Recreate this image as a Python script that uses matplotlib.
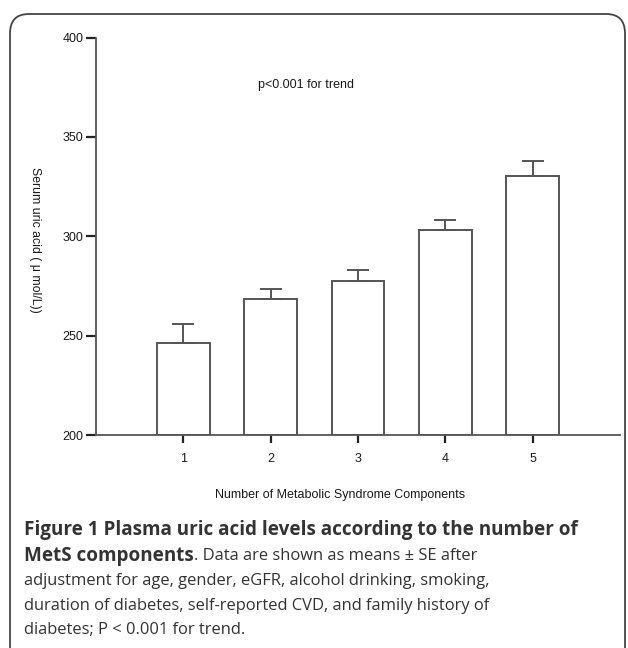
import matplotlib.pyplot as plt
from matplotlib.patches import FancyBboxPatch

# MetS component count vs adjusted serum uric acid
components = [1, 2, 3, 4, 5]
uric_mean = [246.4, 268.2, 277.5, 303.2, 330.2]
uric_se = [9.4, 5.2, 5.3, 5.0, 7.6]

y_ticks = [200, 250, 300, 350, 400]

caption_bold1 = "Figure 1 Plasma uric acid levels according to the number of"
caption_bold2 = "MetS components"
caption_rest = [". Data are shown as means \u00b1 SE after",
                "adjustment for age, gender, eGFR, alcohol drinking, smoking,",
                "duration of diabetes, self-reported CVD, and family history of",
                "diabetes; P < 0.001 for trend."]

W, H = 628, 648
fig = plt.figure(figsize=(W/100, H/100), dpi=100)

# rounded frame around the figure panel
frame = FancyBboxPatch((10/W, -0.1), 615/W, 1.1 - 14/H,
                       boxstyle="round,pad=0,rounding_size=0.03",
                       transform=fig.transFigure, fill=False,
                       edgecolor='#444444', linewidth=1.3)
fig.patches.append(frame)

ax = fig.add_axes([96/W, 1 - 435/H, 524/W, (435 - 37.5)/H])
lc = '#555555'
ax.bar(components, [m - 200 for m in uric_mean], bottom=200, width=0.6,
       color='white', edgecolor=lc, linewidth=1.4)
ax.errorbar(components, uric_mean, yerr=[[0]*5, uric_se], fmt='none',
            ecolor=lc, elinewidth=1.4, capsize=8, capthick=1.4)

ax.set_xlim(0, 6)
ax.set_ylim(200, 400)
ax.set_yticks(y_ticks)
ax.set_xticks(components)
for s in ['top', 'right']:
    ax.spines[s].set_visible(False)
for s in ['left', 'bottom']:
    ax.spines[s].set_color(lc)
    ax.spines[s].set_linewidth(1.3)
ax.tick_params(axis='y', length=7, width=1.6, color='#222222', labelsize=9,
               labelcolor='#1a1a1a', pad=2)
ax.tick_params(axis='x', length=6, width=1.6, color='#222222', labelsize=9,
               labelcolor='#1a1a1a', pad=7)
for lab in ax.get_xticklabels() + ax.get_yticklabels():
    lab.set_family('Liberation Sans')

ax.set_xlabel("Number of Metabolic Syndrome Components", family='Liberation Sans',
              fontsize=9, color='#1a1a1a', labelpad=17)
ax.xaxis.set_label_coords(0.466, -0.135)
fig.text(35/W, 1 - 240/H, "Serum uric acid ( \u03bc mol/L))", rotation=-90,
         family='Liberation Sans', fontsize=8.8, color='#1a1a1a',
         ha='center', va='center')
ax.text(2.4, 376, "p<0.001 for trend", family='Liberation Sans', fontsize=9,
        color='#1a1a1a', ha='center', va='center')

# caption
cap_kw = dict(family='Open Sans', color='#333333', va='center')
fig.text(24/W, 1 - 530/H, caption_bold1, fontweight='bold', fontsize=13.6, **cap_kw)
t = fig.text(24/W, 1 - 556/H, caption_bold2, fontweight='bold', fontsize=13.6, **cap_kw)
fig.canvas.draw()
bb = t.get_window_extent()
fig.text(bb.x1/W, 1 - 556/H, caption_rest[0], fontsize=11.9, **cap_kw)
for i, line in enumerate(caption_rest[1:]):
    fig.text(24/W, 1 - (581 + 24.5*i)/H, line, fontsize=11.9, **cap_kw)

fig.savefig('out.png', dpi=100)
